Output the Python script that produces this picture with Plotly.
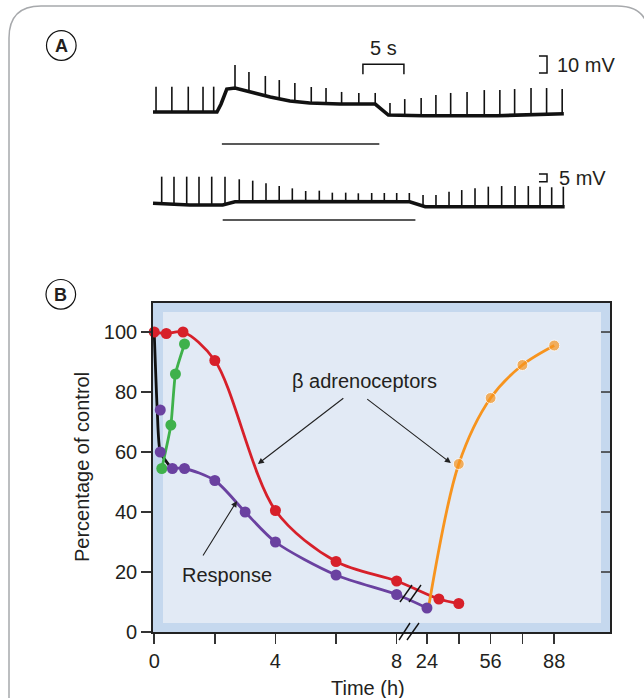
import plotly.graph_objects as go
import numpy as np

W, H = 644, 698

# ---------------- Panel A data (time in s, voltage in mV) ----------------
a1_base_t = [0, 7.8, 8.3, 9.0, 10.0, 11.8, 14.3, 16.7, 19.1, 22.8, 27.1, 28.7, 33.0, 42.0, 50.1]
a1_base_v = [0, 0, 4.7, 13.5, 14.1, 11.8, 8.8, 6.5, 5.3, 4.7, 4.7, -1.8, -2.2, -2.2, -1.0]
a1_spike_t = [0.37, 2.3, 4.3, 6.1, 7.4, 10.0, 11.7, 13.7, 15.4, 17.3, 19.3, 21.1, 23.0, 25.1,
              27.1, 28.9, 30.7, 32.7, 34.5, 36.3, 38.3, 40.4, 42.3, 44.1, 46.1, 48.0, 49.9]
a1_spike_v = [14.9, 14.9, 14.9, 14.9, 14.9, 27.6, 23.5, 21.2, 18.8, 17.1, 14.7, 14.1, 11.8, 11.2,
              11.2, 5.3, 7.6, 8.2, 10.0, 11.2, 11.8, 12.9, 12.9, 13.5, 14.1, 14.1, 13.5]
a1_drug_t = [8.4, 27.6]
a1_drug_v = [-18.8, -18.8]

a2_base_t = [0, 4.5, 8.5, 10.0, 17.9, 31.3, 33.2, 50.2]
a2_base_v = [0, -1.1, -1.1, 1.0, 1.1, 1.0, -2.2, -2.2]
a2_spike_t = [1.06, 2.56, 4.11, 5.61, 7.16, 8.78, 10.52, 12.16, 13.78, 15.39, 16.99, 18.62,
              20.28, 21.87, 23.5, 25.04, 26.67, 28.21, 29.72, 31.26, 32.93, 34.51, 36.1,
              37.65, 39.27, 40.89, 42.52, 44.15, 45.77, 47.2, 48.62, 50.04]
a2_spike_v = [17.3, 17.3, 17.3, 17.3, 17.3, 17.3, 15.6, 14.7, 13.0, 11.2, 9.7, 8.0, 8.2, 6.9,
              6.9, 6.5, 6.7, 6.7, 6.7, 6.7, 5.4, 5.4, 7.5, 8.6, 9.7, 10.8, 11.2, 11.2, 11.2,
              10.8, 10.4, 10.8]
a2_drug_t = [8.5, 32.0]
a2_drug_v = [-10.8, -10.8]

# ---------------- Panel B data (time in h, % of control) ----------------
red_t = [0, 0.4, 0.95, 2, 4, 6, 8, 30, 40]
red_v = [100, 99.5, 100, 90.5, 40.5, 23.5, 17, 11, 9.5]
purple_t = [0.2, 0.2, 0.6, 1, 2, 3, 4, 6, 8, 24]
purple_v = [74, 60, 54.5, 54.5, 50.5, 40, 30, 19, 12.5, 8]
green_t = [0.25, 0.55, 0.7, 1.0]
green_v = [54.5, 69, 86, 96]
orange_t = [25, 40, 56, 72, 88]
orange_v = [9, 56, 78, 89, 95.5]
black_t = [0, 0.1, 0.2, 0.5]
black_v = [100, 74, 60, 55.5]

x_tick_h = [0, 2, 4, 6, 8, 24, 40, 56, 72, 88]
x_tick_lbl = ["0", "", "4", "", "8", "24", "", "56", "", "88"]
y_tick = [0, 20, 40, 60, 80, 100]

# broken time axis: 0-8 h linear, then 24-88 h compressed
K = 1.05 / 16.0
def u_of(t):
    t = np.asarray(t, dtype=float)
    return np.where(t <= 8, t, 9 + (t - 24) * K)

def px(x):
    return x / W
def py(y):
    return 1 - y / H

RED, PURPLE, GREEN, ORANGE = "#d7202a", "#6a41a0", "#3fb14b", "#f7941e"
FONT = "Liberation Sans, Arial, sans-serif"
TXT = "#231f20"

fig = go.Figure()

# ---- Panel A traces ----
def spikes(ts, vs, bt, bv):
    xs, ys = [], []
    for t, v in zip(ts, vs):
        b = float(np.interp(t, bt, bv))
        xs += [t, t, None]
        ys += [b, v, None]
    return xs, ys

for bt, bv, st, sv, dt, dv, ya in [
    (a1_base_t, a1_base_v, a1_spike_t, a1_spike_v, a1_drug_t, a1_drug_v, "y3"),
    (a2_base_t, a2_base_v, a2_spike_t, a2_spike_v, a2_drug_t, a2_drug_v, "y4"),
]:
    sx, sy = spikes(st, sv, bt, bv)
    fig.add_trace(go.Scatter(x=sx, y=sy, mode="lines", xaxis="x2", yaxis=ya,
                             line=dict(color="#111", width=1.6), hoverinfo="skip"))
    fig.add_trace(go.Scatter(x=bt, y=bv, mode="lines", xaxis="x2", yaxis=ya,
                             line=dict(color="#111", width=3.6), hoverinfo="skip"))
    fig.add_trace(go.Scatter(x=dt, y=dv, mode="lines", xaxis="x2", yaxis=ya,
                             line=dict(color="#222", width=1.5), hoverinfo="skip"))

# ---- Panel B traces ----
LW = 2.8
fig.add_trace(go.Scatter(x=u_of(black_t), y=black_v, mode="lines",
                         line=dict(color="#111", width=LW, shape="spline", smoothing=0.6),
                         cliponaxis=False))
fig.add_trace(go.Scatter(x=u_of(green_t), y=green_v, mode="lines+markers",
                         line=dict(color=GREEN, width=LW, shape="spline", smoothing=0.5),
                         marker=dict(color=GREEN, size=11), cliponaxis=False))
fig.add_trace(go.Scatter(x=u_of(red_t), y=red_v, mode="lines+markers",
                         line=dict(color=RED, width=LW, shape="spline", smoothing=0.9),
                         marker=dict(color=RED, size=11), cliponaxis=False))
fig.add_trace(go.Scatter(x=u_of(purple_t[2:]), y=purple_v[2:], mode="lines",
                         line=dict(color=PURPLE, width=LW, shape="spline", smoothing=0.8),
                         cliponaxis=False))
fig.add_trace(go.Scatter(x=u_of(orange_t), y=orange_v, mode="lines+markers",
                         line=dict(color=ORANGE, width=LW, shape="spline", smoothing=0.9),
                         marker=dict(color=ORANGE, size=[0, 11, 11, 11, 11]), cliponaxis=False))
fig.add_trace(go.Scatter(x=u_of(purple_t), y=purple_v, mode="markers",
                         marker=dict(color=PURPLE, size=11), cliponaxis=False))

shapes = []
# outer rounded frame
R = 32
x0, y0, x1, y1 = 9, 6, 649, 720
path = (f"M {px(x0)},{py(y1)} L {px(x0)},{py(y0+R)} Q {px(x0)},{py(y0)} {px(x0+R)},{py(y0)} "
        f"L {px(x1-R)},{py(y0)} Q {px(x1)},{py(y0)} {px(x1)},{py(y0+R)} L {px(x1)},{py(y1)}")
shapes.append(dict(type="path", xref="paper", yref="paper", path=path,
                   line=dict(color="#a7a9ac", width=1.5)))
# chart background strips
shapes.append(dict(type="rect", xref="paper", yref="paper", layer="below",
                   x0=px(153), x1=px(610), y0=py(632), y1=py(303),
                   fillcolor="#c5d8ee", line=dict(width=0)))
shapes.append(dict(type="rect", xref="paper", yref="paper", layer="below",
                   x0=px(163), x1=px(601), y0=py(623), y1=py(312),
                   fillcolor="#e2eaf5", line=dict(width=0)))
# inner right ticks
for v in y_tick[1:]:
    shapes.append(dict(type="line", xref="x domain", yref="y", x0=1 - 9 / 457, x1=1, y0=v, y1=v,
                       line=dict(color="#333", width=1.5)))
# circles for panel labels
for cx, cy in [(61.3, 45.5), (60.8, 294.3)]:
    r = 14.8
    shapes.append(dict(type="circle", xref="paper", yref="paper",
                       x0=px(cx - r), x1=px(cx + r), y0=py(cy + r), y1=py(cy - r),
                       line=dict(color="#111", width=1.2)))
# axis break slashes
for (ax0, ay0, ax1, ay1) in [(399, 640, 410, 623), (407, 640, 419, 623),
                             (400, 602, 412, 585), (409, 602, 421, 585)]:
    shapes.append(dict(type="line", xref="paper", yref="paper",
                       x0=px(ax0), y0=py(ay0), x1=px(ax1), y1=py(ay1),
                       line=dict(color="#111", width=1.4)))
# scale bars (panel A)
shapes += [
    dict(type="path", xref="x2", yref="y3", path="M 25.6,22.2 L 25.6,28.1 L 30.6,28.1 L 30.6,22.2",
         line=dict(color="#111", width=1.5)),
    dict(type="path", xref="x2", yref="y3", path="M 47.07,32.9 L 48.05,32.9 L 48.05,22.9 L 47.07,22.9",
         line=dict(color="#111", width=1.5)),
    dict(type="path", xref="x2", yref="y4", path="M 47.07,19.0 L 48.05,19.0 L 48.05,14.0 L 47.07,14.0",
         line=dict(color="#111", width=1.5)),
]

ann = []
def text(x, y, s, size=20, xanchor="center", bold=False, xref="paper", yref="paper", angle=0):
    ann.append(dict(x=x, y=y, xref=xref, yref=yref, text=f"<b>{s}</b>" if bold else s,
                    showarrow=False, xanchor=xanchor, yanchor="middle", textangle=angle,
                    font=dict(family=FONT, size=size, color=TXT)))

text(px(61.3), py(46), "A", size=18, bold=True)
text(px(60.8), py(295), "B", size=18, bold=True)
text(28.1, 37.6, "5 s", xref="x2", yref="y3")
text(49.0, 27.9, "10 mV", xanchor="left", xref="x2", yref="y3")
text(49.3, 16.5, "5 mV", xanchor="left", xref="x2", yref="y4")
text(px(82), py(467), "Percentage of control", angle=-90)
text(px(368), py(688), "Time (h)")
text(6.95, 83.7, "β adrenoceptors", xref="x", yref="y")
text(2.4, 19, "Response", xref="x", yref="y")

for (tx, ty, hx, hy) in [(6.29, 78.3, 3.42, 56.0), (6.98, 78.0, 9.79, 56.3), (1.58, 25.0, 2.73, 43.7)]:
    ann.append(dict(x=hx, y=hy, ax=tx, ay=ty, xref="x", yref="y", axref="x", ayref="y",
                    showarrow=True, arrowhead=2, arrowsize=1.1, arrowwidth=1.1,
                    arrowcolor="#222", text=""))

axis_common = dict(showgrid=False, zeroline=False)
fig.update_layout(
    width=W, height=H, margin=dict(l=0, r=0, t=0, b=0),
    paper_bgcolor="white", plot_bgcolor="rgba(0,0,0,0)", showlegend=False,
    font=dict(family=FONT, color=TXT),
    xaxis=dict(domain=[px(153), px(610)], range=[-0.04, 15.04], anchor="y",
               showline=True, mirror=True, linecolor="#222", linewidth=1.8,
               ticks="outside", ticklen=10, tickwidth=1.5, tickcolor="#333",
               tickvals=list(u_of(x_tick_h)), ticktext=x_tick_lbl,
               tickfont=dict(size=20, color=TXT, family=FONT), automargin=False, **axis_common),
    yaxis=dict(domain=[1 - 632 / H, 1 - 303 / H], range=[0, 109.67], anchor="x",
               showline=True, mirror=True, linecolor="#222", linewidth=1.8,
               ticks="outside", ticklen=10, tickwidth=1.5, tickcolor="#333",
               tickvals=y_tick, tickfont=dict(size=20, color=TXT, family=FONT),
               automargin=False, **axis_common),
    xaxis2=dict(domain=[0, 1], range=[-153 / 8.2, 491 / 8.2], anchor="y3", visible=False),
    yaxis3=dict(domain=[0, 1], range=[-(698 - 112) / 1.7, 112 / 1.7], anchor="x2", visible=False),
    yaxis4=dict(overlaying="y3", range=[-(698 - 203.3) / 1.54, 203.3 / 1.54], anchor="x2",
                visible=False),
    shapes=shapes, annotations=ann,
)

fig.write_html("out.html", config={"displayModeBar": False, "staticPlot": True},
               post_script="document.body.style.margin='0';document.body.style.overflow='hidden';")
